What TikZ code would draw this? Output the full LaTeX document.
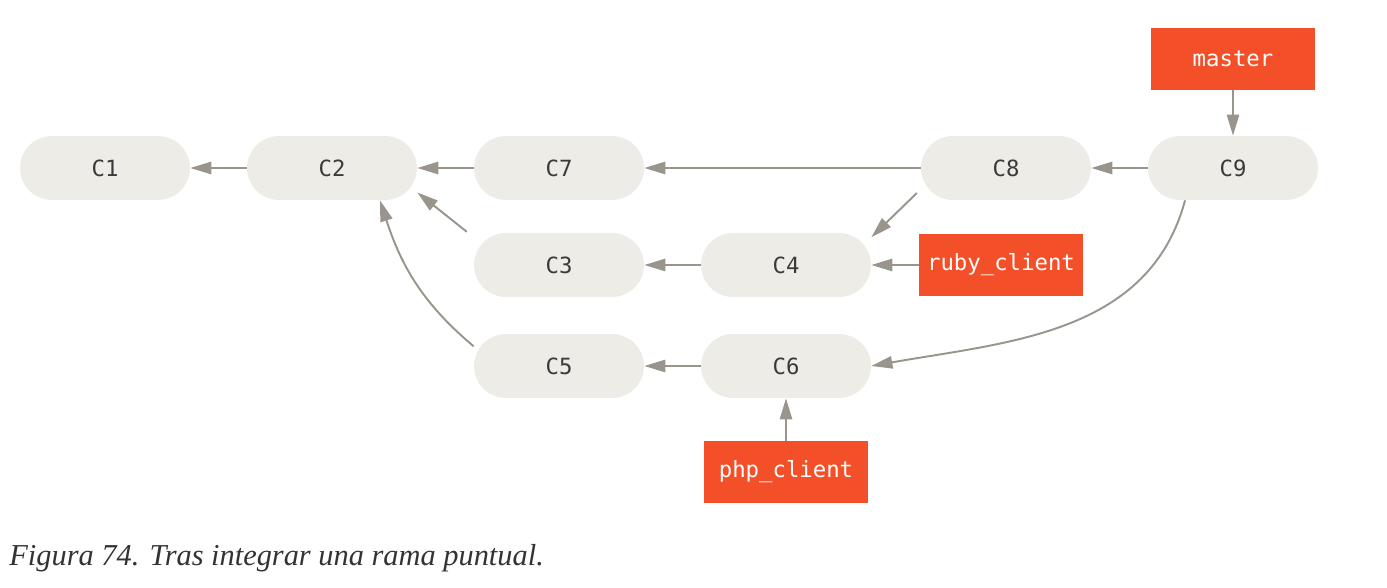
\documentclass[tikz,border=0pt]{standalone}
\usepackage{fontspec}
\newfontfamily\gitmono{DejaVu Sans Mono}
\newfontfamily\capserif{Liberation Serif}
\usetikzlibrary{arrows.meta}
\definecolor{commitfill}{HTML}{EDECE6}
\definecolor{branchred}{HTML}{F34F28}
\definecolor{edgegray}{HTML}{9A958C}
\definecolor{labelgray}{HTML}{3A3A3A}
\definecolor{captext}{HTML}{333333}
\tikzset{
	commit/.style={rounded corners=0.64cm, fill=commitfill, minimum width=3.4cm, minimum height=1.28cm, text=labelgray, font=\gitmono\fontsize{12.7}{15}\selectfont},
	branch/.style={fill=branchred, minimum width=3.28cm, minimum height=1.24cm, text=white, font=\gitmono\fontsize{12.7}{15}\selectfont},
	parent/.style={draw=edgegray, line width=1.1pt, arrows=-{Triangle[length=12pt,width=7pt]}},
}

\begin{document}
\begin{tikzpicture}[x=0.02cm, y=0.02cm]
	\useasboundingbox (0,0) rectangle (1387,-588);
	% commits
	\node[commit] (C1) at (105,-168) {C1};
	\node[commit] (C2) at (332,-168) {C2};
	\node[commit] (C7) at (559,-168) {C7};
	\node[commit] (C8) at (1006,-168) {C8};
	\node[commit] (C9) at (1233,-168) {C9};
	\node[commit] (C3) at (559,-265) {C3};
	\node[commit] (C4) at (786,-265) {C4};
	\node[commit] (C5) at (559,-366) {C5};
	\node[commit] (C6) at (786,-366) {C6};
	% branches
	\node[branch] (master) at (1233,-59) {master};
	\node[branch] (ruby) at (1001,-265) {ruby\_client};
	\node[branch] (php) at (786,-472) {php\_client};
	% parents
	\draw[parent] (C2) -- (C1);
	\draw[parent] (C7) -- (C2);
	\draw[parent] (C8) -- (C7);
	\draw[parent] (C9) -- (C8);
	\draw[parent, shorten <=5pt] (C3.162) -- (C2.-16);
	\draw[parent] (C5.167) to[out=140, in=-72] (C2.-34);
	\draw[parent] (C4) -- (C3);
	\draw[parent, shorten <=3pt] (C8.-166) -- (C4.18);
	\draw[parent] (C6) -- (C5);
	\draw[parent] (C9.-146) to[out=-105, in=10] (C6.east);
	\draw[parent] (master) -- (C9);
	\draw[parent] (ruby) -- (C4);
	\draw[parent] (php) -- (C6);
	\node[anchor=base west, inner sep=0pt, text=captext, font=\capserif\itshape\fontsize{17.3}{20}\selectfont] (caption) at (9,-565) {Figura 74. Tras integrar una rama puntual.};
\end{tikzpicture}
\end{document}
